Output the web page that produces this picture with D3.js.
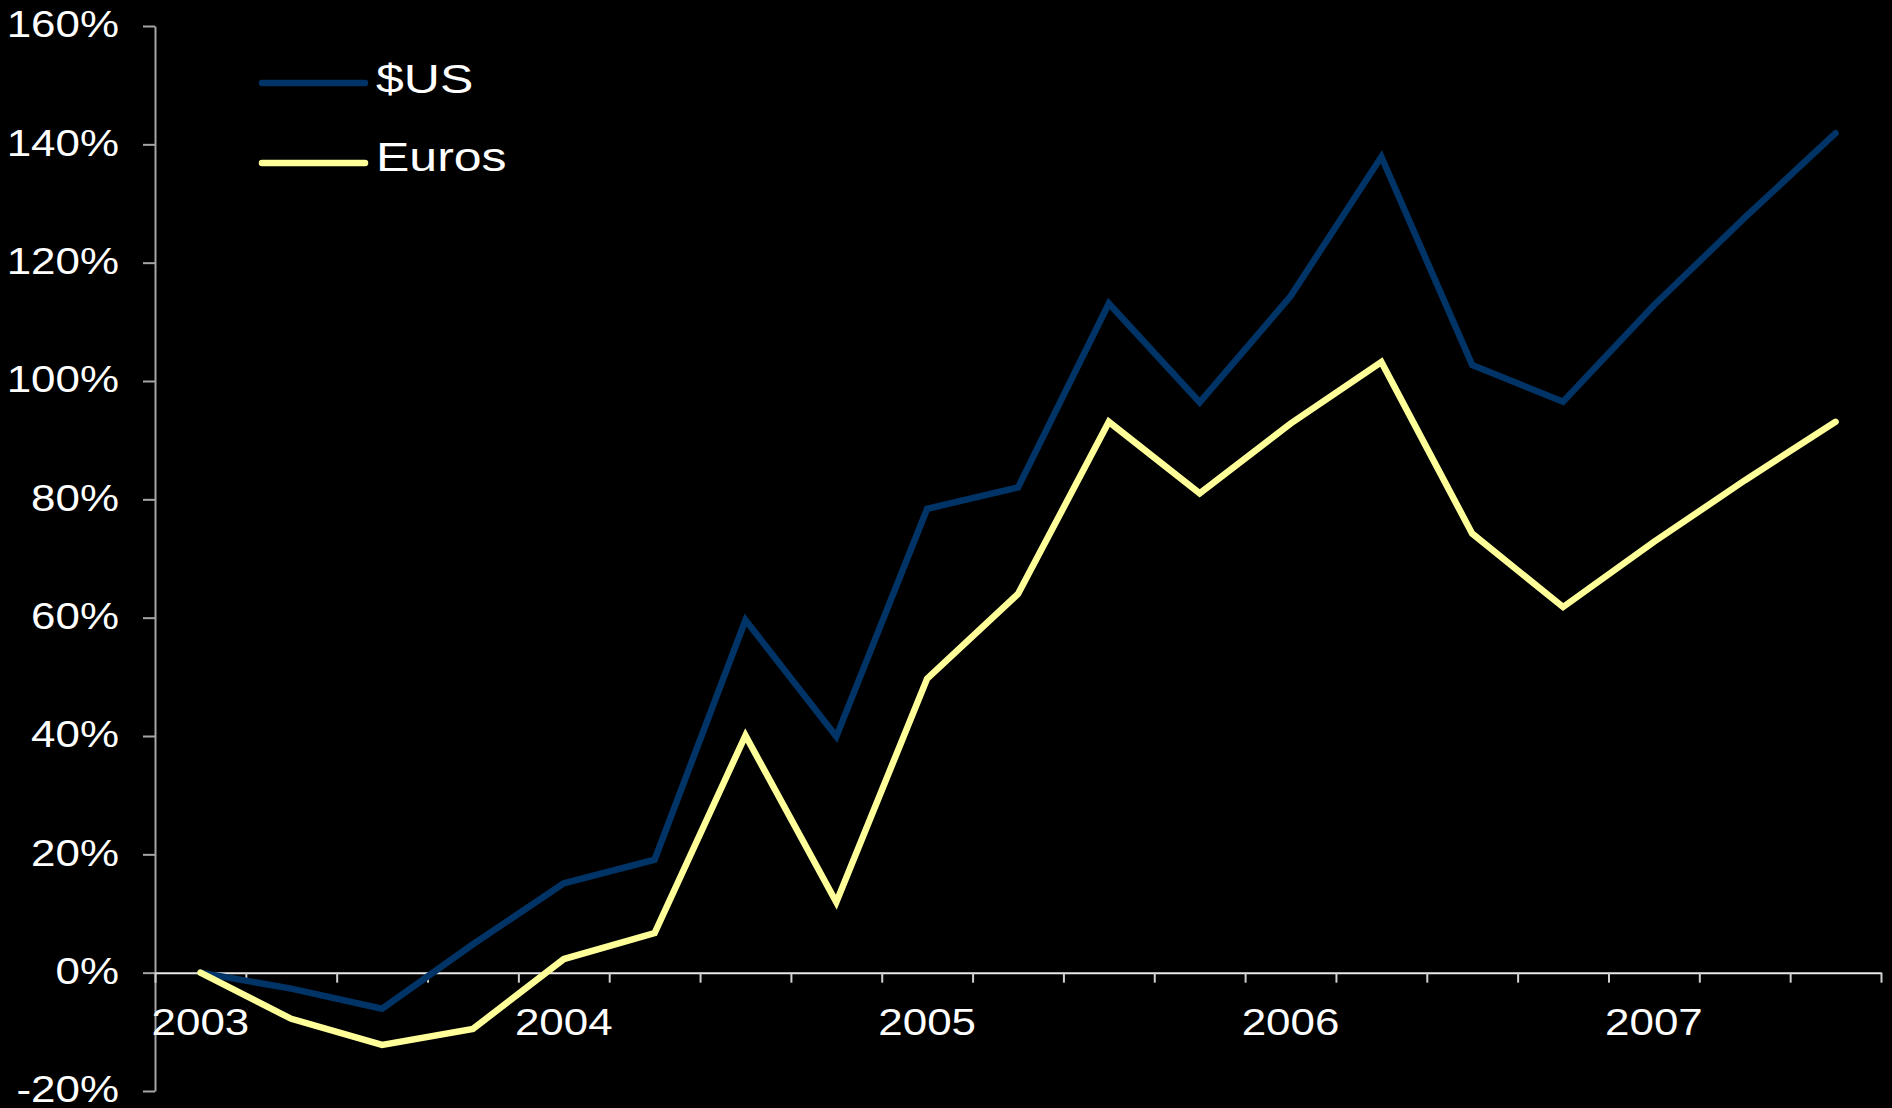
<!DOCTYPE html>
<html>
<head>
<meta charset="utf-8">
<script src="https://cdn.jsdelivr.net/npm/d3@7"></script>
<style>
  body { margin: 0; background: #000; }
  svg { display: block; background: #000; }
  text { font-family: "Liberation Sans", Arial, sans-serif; fill: #fff; }
</style>
</head>
<body>
<div id="chart"></div>
<script>
// quarterly categories, 2003 Q1 .. 2007 Q3
var quarters = ["2003 Q1", "2003 Q2", "2003 Q3", "2003 Q4",
                "2004 Q1", "2004 Q2", "2004 Q3", "2004 Q4",
                "2005 Q1", "2005 Q2", "2005 Q3", "2005 Q4",
                "2006 Q1", "2006 Q2", "2006 Q3", "2006 Q4",
                "2007 Q1", "2007 Q2", "2007 Q3"];

// labels shown under the axis (first quarter of each year)
var yearLabels = ["2003", "2004", "2005", "2006", "2007"];

// cumulative return, in %
var usdValues  = [0, -2.7, -6.1, 4.8, 15.1, 19.1, 59.6, 39.9, 78.4, 82.0,
                  113.1, 96.4, 114.3, 137.9, 102.7, 96.5, 112.8, 127.6, 141.9];
var euroValues = [0, -7.8, -12.2, -9.5, 2.3, 6.7, 40.1, 11.9, 49.7, 64.0,
                  93.1, 81.0, 92.8, 103.2, 74.2, 61.8, 72.8, 83.2, 93.1];

var seriesNames = ["$US", "Euros"];
var yTicks = [-20, 0, 20, 40, 60, 80, 100, 120, 140, 160];

var width = 1892, height = 1108;

var svg = d3.select("#chart")
            .append("svg")
            .attr("width", width)
            .attr("height", height);

// the original text is drawn horizontally wide
function widen(sel, k) {
  sel.each(function() {
    var w = this.getComputedTextLength();
    if (w > 0) {
      this.setAttribute("textLength", w * k);
      this.setAttribute("lengthAdjust", "spacingAndGlyphs");
    }
  });
}

// scales
var x = d3.scaleBand()
          .domain(quarters)
          .range([155, 1881]);

var xEdge = d3.scaleLinear()
              .domain([0, quarters.length])
              .range(x.range());

var y = d3.scaleLinear()
          .domain([-20, 160])
          .range([1091, 26]);

// y axis
var yAxis = d3.axisLeft(y)
              .tickValues(yTicks)
              .tickSize(12)
              .tickSizeOuter(0)
              .tickPadding(24)
              .tickFormat(function(d) { return d + "%"; });

var gy = svg.append("g")
            .attr("class", "axis y")
            .attr("transform", "translate(155,0)")
            .call(yAxis);
gy.select(".domain").attr("stroke", "#a6a6a6").attr("stroke-width", 2);
gy.selectAll(".tick line").attr("stroke", "#a6a6a6").attr("stroke-width", 2);
gy.selectAll("text")
    .attr("fill", "#fff")
    .style("font-size", "36px")
    .attr("dy", "0.3em")
    .call(widen, 1.22);

// x axis line with a tick between every quarter
var xTickAxis = d3.axisBottom(xEdge)
                  .tickValues(d3.range(quarters.length + 1))
                  .tickSize(10)
                  .tickSizeOuter(0)
                  .tickFormat("");

var gx = svg.append("g")
            .attr("class", "axis x")
            .attr("transform", "translate(0," + y(0) + ")")
            .call(xTickAxis);
gx.select(".domain").attr("stroke", "#e8e8e8").attr("stroke-width", 2);
gx.selectAll(".tick line").attr("stroke", "#d0d0d0").attr("stroke-width", 2);

// year labels centred on the first quarter of each year
var firstQuarters = quarters.filter(function(q) { return q.slice(-2) === "Q1"; });
var xLabelAxis = d3.axisBottom(x)
                   .tickValues(firstQuarters)
                   .tickSize(0)
                   .tickPadding(37)
                   .tickFormat(function(d, i) { return yearLabels[i]; });

var gxl = svg.append("g")
             .attr("class", "axis xlabels")
             .attr("transform", "translate(0," + y(0) + ")")
             .call(xLabelAxis);
gxl.select(".domain").remove();
gxl.selectAll("text")
    .attr("fill", "#fff")
    .style("font-size", "36px")
    .call(widen, 1.22);

// lines
var line = d3.line()
             .x(function(d, i) { return x(quarters[i]) + x.bandwidth() / 2; })
             .y(function(d) { return y(d); })
             .curve(d3.curveLinear);

var series = [
  {name: seriesNames[0], values: usdValues,  color: "#003366"},
  {name: seriesNames[1], values: euroValues, color: "#ffff99"}
];

svg.selectAll("path.series")
   .data(series)
   .enter().append("path")
   .attr("class", "series")
   .attr("fill", "none")
   .attr("stroke", function(d) { return d.color; })
   .attr("stroke-width", 6.5)
   .attr("stroke-linejoin", "miter")
   .attr("stroke-linecap", "round")
   .attr("d", function(d) { return line(d.values); });

// legend
var legend = svg.selectAll("g.legend")
                .data(series)
                .enter().append("g")
                .attr("class", "legend")
                .attr("transform", function(d, i) { return "translate(262," + (83 + i * 80) + ")"; });

legend.append("line")
      .attr("x1", 0).attr("x2", 103)
      .attr("y1", 0).attr("y2", 0)
      .attr("stroke", function(d) { return d.color; })
      .attr("stroke-width", 6.5)
      .attr("stroke-linecap", "round");

legend.append("text")
      .attr("x", 114)
      .attr("y", function(d, i) { return i === 0 ? 10 : 8; })
      .style("font-size", "40px")
      .text(function(d) { return d.name; })
      .call(widen, 1.25);
</script>
</body>
</html>
